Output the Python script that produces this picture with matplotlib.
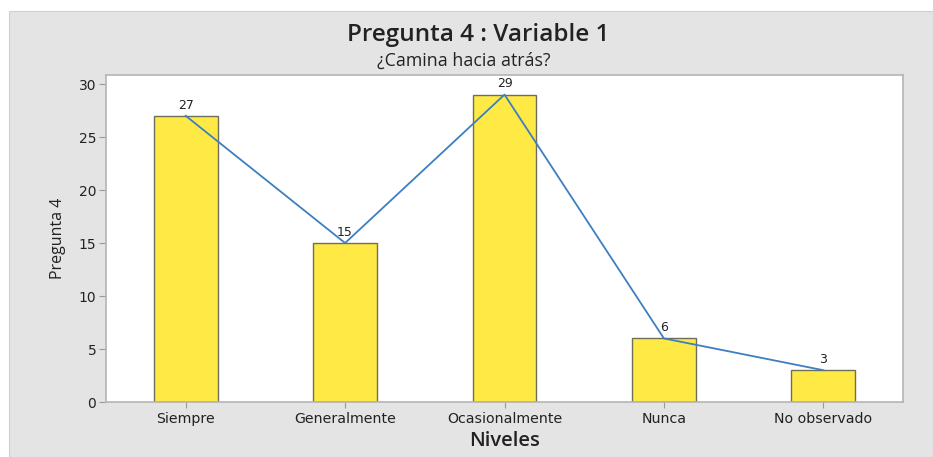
import matplotlib.pyplot as plt
from matplotlib.patches import Rectangle

niveles = ['Siempre', 'Generalmente', 'Ocasionalmente', 'Nunca', 'No observado']
conteos = [27, 15, 29, 6, 3]
yticks = [0, 5, 10, 15, 20, 25, 30]

W, H = 933, 457
fig = plt.figure(figsize=(W / 100, H / 100), dpi=100, facecolor='white')
# gray panel (white strip on top and left like the screenshot)
fig.patches.append(Rectangle((9 / W, 0), 1 - 9 / W, (H - 11) / H,
                             transform=fig.transFigure, facecolor='#e4e4e4',
                             edgecolor='#d0d0d0', lw=0.8, zorder=-10))

ax = fig.add_axes([106 / W, 1 - 402 / H, (903 - 106) / W, (402 - 75) / H])
ax.set_facecolor('white')

x = list(range(len(niveles)))
ax.bar(x, conteos, width=0.4, color='#ffe945', edgecolor='#6e6e5a', linewidth=1.0, zorder=2)
ax.plot(x, conteos, color='#3d7fc1', linewidth=1.3, zorder=3)
for xi, v in zip(x, conteos):
    ax.annotate(str(v), (xi, v), xytext=(0, 3), textcoords='offset points',
                ha='center', va='bottom', fontsize=9, color='#222222', zorder=4)

ax.set_xlim(-0.5, 4.5)
ax.set_ylim(0, 30.85)
ax.set_yticks(yticks)
ax.set_xticks(x)
ax.set_xticklabels(niveles, fontsize=10.2, color='#222222')
ax.tick_params(axis='y', labelsize=10, labelcolor='#222222', length=5, color='#9a9a9a', pad=2)
ax.tick_params(axis='x', length=4, color='#9a9a9a', pad=3)
for s in ax.spines.values():
    s.set_color('#b4b4b4')
    s.set_linewidth(1.2)

ax.set_xlabel('Niveles', fontsize=14.5, family='Open Sans', fontweight=600,
              color='#222222', labelpad=4)
ax.set_ylabel('Pregunta 4', fontsize=11.5, family='Open Sans', color='#222222', labelpad=9)

fig.text(478 / W, 1 - 35 / H, 'Pregunta 4 : Variable 1', ha='center', va='center',
         fontsize=17.5, family='Open Sans', fontweight=600, color='#222222')
fig.text(464 / W, 1 - 61 / H, '¿Camina hacia atrás?', ha='center', va='center',
         fontsize=12.8, family='Open Sans', fontweight=500, color='#222222')

fig.savefig('out.png', dpi=100, facecolor=fig.get_facecolor())
